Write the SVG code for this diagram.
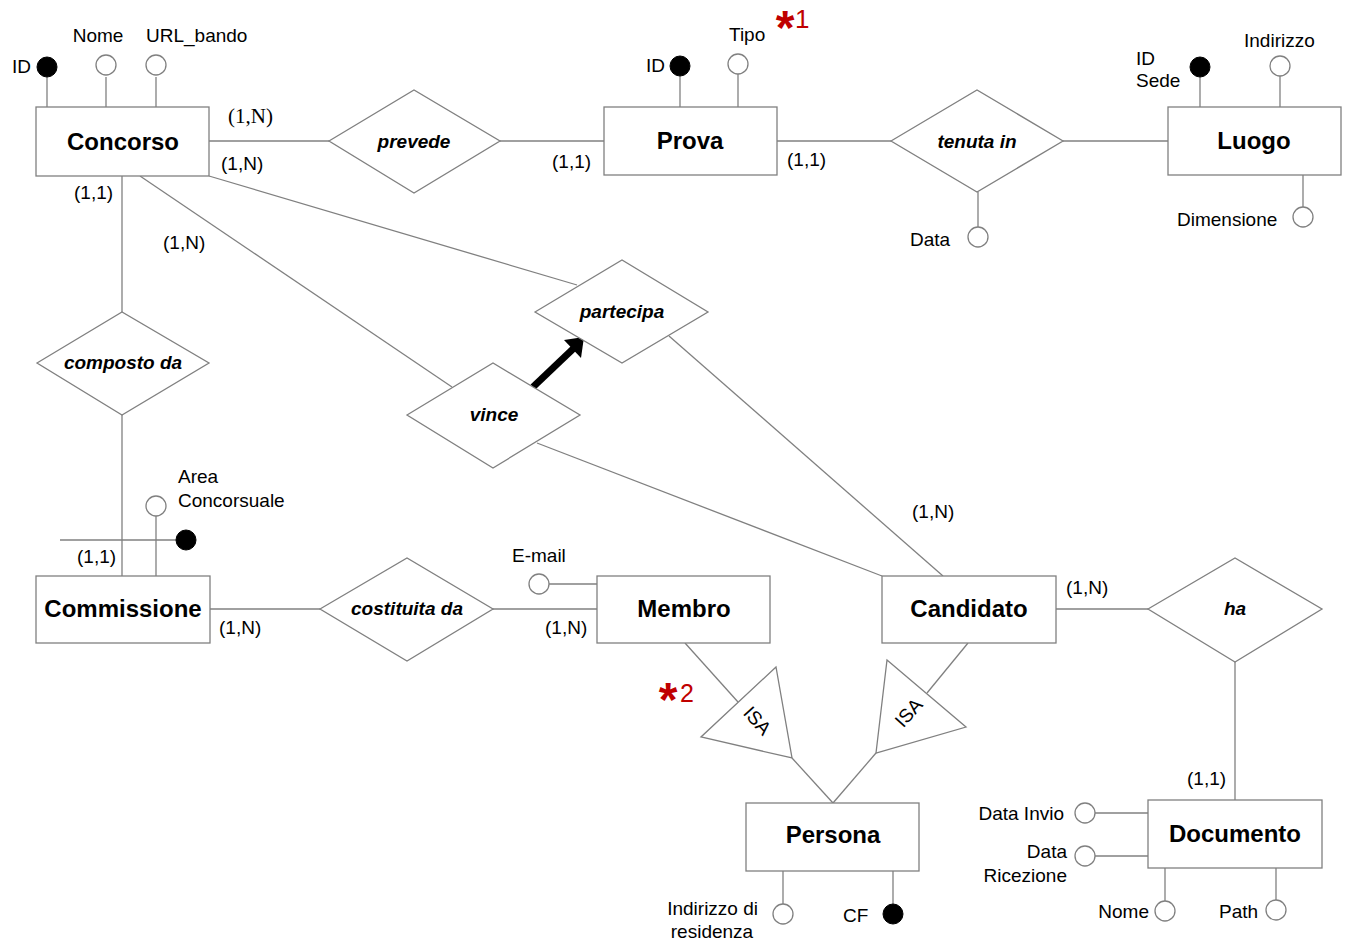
<svg xmlns="http://www.w3.org/2000/svg" width="1351" height="941" viewBox="0 0 1351 941">
<style>
.ent{fill:#fff;stroke:#808080;stroke-width:1.3}
.rel{fill:#fff;stroke:#808080;stroke-width:1.3}
.ln{stroke:#808080;stroke-width:1.3;fill:none}
.ao{fill:#fff;stroke:#808080;stroke-width:1.3}
.ak{fill:#000;stroke:#000;stroke-width:1}
.et{font-family:"Liberation Sans",Arial,sans-serif;font-weight:bold;font-size:24px;text-anchor:middle;fill:#000}
.rt{font-family:"Liberation Sans",Arial,sans-serif;font-weight:bold;font-style:italic;font-size:19px;text-anchor:middle;fill:#000}
.at{font-family:"Liberation Sans",Arial,sans-serif;font-size:19px;fill:#000}
.cd{font-family:"Liberation Sans",Arial,sans-serif;font-size:19px;fill:#000}
.cs{font-family:"Liberation Serif","Times New Roman",serif;font-size:21px;fill:#000}
.red{font-family:"Liberation Sans",Arial,sans-serif;fill:#c00000}
</style>
<rect width="1351" height="941" fill="#fff"/>

<g id="connectors">
<line class="ln" x1="209" y1="141" x2="329" y2="141"/>
<line class="ln" x1="500" y1="141" x2="604" y2="141"/>
<line class="ln" x1="777" y1="141" x2="891" y2="141"/>
<line class="ln" x1="1063" y1="141" x2="1168" y2="141"/>
<line class="ln" x1="122" y1="176" x2="122" y2="312"/>
<line class="ln" x1="122" y1="415" x2="122" y2="576"/>
<line class="ln" x1="210" y1="609" x2="320" y2="609"/>
<line class="ln" x1="493" y1="609" x2="597" y2="609"/>
<line class="ln" x1="1056" y1="609" x2="1148" y2="609"/>
<line class="ln" x1="1235" y1="662" x2="1235" y2="800"/>
<line class="ln" x1="209" y1="176" x2="577" y2="285"/>
<line class="ln" x1="140" y1="176" x2="452" y2="387"/>
<line class="ln" x1="537" y1="443" x2="882" y2="576"/>
<line class="ln" x1="669" y1="336" x2="943" y2="576"/>
<line class="ln" x1="685" y1="643" x2="738" y2="702"/>
<line class="ln" x1="792" y1="758" x2="833" y2="803"/>
<line class="ln" x1="968" y1="643" x2="927" y2="693"/>
<line class="ln" x1="876" y1="753" x2="833" y2="803"/>
<line x1="533" y1="387" x2="574" y2="348" stroke="#000" stroke-width="7"/>
<polygon points="584,337 564,340 581,358" fill="#000"/>
</g>

<g id="concorso">
<rect class="ent" x="36" y="107" width="173" height="69"/>
<text class="et" x="123" y="150">Concorso</text>
<line class="ln" x1="47" y1="77" x2="47" y2="107"/>
<circle class="ak" cx="47" cy="67" r="10"/>
<text class="at" x="31" y="73" text-anchor="end">ID</text>
<line class="ln" x1="106" y1="77" x2="106" y2="107"/>
<circle class="ao" cx="106" cy="65" r="10"/>
<text class="at" x="98" y="42" text-anchor="middle">Nome</text>
<line class="ln" x1="156" y1="77" x2="156" y2="107"/>
<circle class="ao" cx="156" cy="65" r="10"/>
<text class="at" x="146" y="42">URL_bando</text>
<text class="cs" x="228" y="123">(1,N)</text>
<text class="cd" x="221" y="170">(1,N)</text>
<text class="cd" x="74" y="199">(1,1)</text>
<text class="cd" x="163" y="249">(1,N)</text>
</g>

<g id="prevede">
<polygon class="rel" points="329,141 414,90 500,141 414,193"/>
<text class="rt" x="414" y="148">prevede</text>
</g>

<g id="prova">
<rect class="ent" x="604" y="107" width="173" height="68"/>
<text class="et" x="690" y="149">Prova</text>
<line class="ln" x1="680" y1="76" x2="680" y2="107"/>
<circle class="ak" cx="680" cy="66" r="10"/>
<text class="at" x="665" y="72" text-anchor="end">ID</text>
<line class="ln" x1="738" y1="74" x2="738" y2="107"/>
<circle class="ao" cx="738" cy="64" r="10"/>
<text class="at" x="729" y="41">Tipo</text>
<text class="cd" x="552" y="168">(1,1)</text>
<text class="cd" x="787" y="166">(1,1)</text>
<text class="red" x="785" y="44" font-size="48" font-weight="bold" text-anchor="middle">*</text>
<text class="red" x="795" y="28" font-size="26">1</text>
</g>

<g id="tenuta_in">
<polygon class="rel" points="891,141 977,90 1063,141 977,192"/>
<text class="rt" x="977" y="148">tenuta in</text>
<line class="ln" x1="978" y1="192" x2="978" y2="227"/>
<circle class="ao" cx="978" cy="237" r="10"/>
<text class="at" x="910" y="246">Data</text>
</g>

<g id="luogo">
<rect class="ent" x="1168" y="107" width="173" height="68"/>
<text class="et" x="1254" y="149">Luogo</text>
<line class="ln" x1="1200" y1="77" x2="1200" y2="107"/>
<circle class="ak" cx="1200" cy="67" r="10"/>
<text class="at" x="1136" y="65">ID</text>
<text class="at" x="1136" y="87">Sede</text>
<line class="ln" x1="1280" y1="76" x2="1280" y2="107"/>
<circle class="ao" cx="1280" cy="66" r="10"/>
<text class="at" x="1244" y="47">Indirizzo</text>
<line class="ln" x1="1303" y1="175" x2="1303" y2="207"/>
<circle class="ao" cx="1303" cy="217" r="10"/>
<text class="at" x="1177" y="226">Dimensione</text>
</g>

<g id="composto_da">
<polygon class="rel" points="37,363 122,312 209,363 122,415"/>
<text class="rt" x="123" y="369">composto da</text>
</g>

<g id="partecipa">
<polygon class="rel" points="535,312 622,260 708,312 622,363"/>
<text class="rt" x="622" y="318">partecipa</text>
</g>

<g id="vince">
<polygon class="rel" points="407,415 493,363 580,415 493,468"/>
<text class="rt" x="494" y="421">vince</text>
</g>

<g id="commissione">
<rect class="ent" x="36" y="576" width="174" height="67"/>
<text class="et" x="123" y="617">Commissione</text>
<line class="ln" x1="60" y1="540" x2="177" y2="540"/>
<circle class="ak" cx="186" cy="540" r="10"/>
<line class="ln" x1="156" y1="516" x2="156" y2="576"/>
<circle class="ao" cx="156" cy="506" r="10"/>
<text class="at" x="178" y="483">Area</text>
<text class="at" x="178" y="507">Concorsuale</text>
<text class="cd" x="77" y="563">(1,1)</text>
<text class="cd" x="219" y="634">(1,N)</text>
</g>

<g id="costituita_da">
<polygon class="rel" points="320,609 407,558 493,609 407,661"/>
<text class="rt" x="407" y="615">costituita da</text>
</g>

<g id="membro">
<rect class="ent" x="597" y="576" width="173" height="67"/>
<text class="et" x="684" y="617">Membro</text>
<line class="ln" x1="549" y1="584" x2="597" y2="584"/>
<circle class="ao" cx="539" cy="584" r="10"/>
<text class="at" x="512" y="562">E-mail</text>
<text class="cd" x="545" y="634">(1,N)</text>
</g>

<g id="candidato">
<rect class="ent" x="882" y="576" width="174" height="67"/>
<text class="et" x="969" y="617">Candidato</text>
<text class="cd" x="912" y="518">(1,N)</text>
<text class="cd" x="1066" y="594">(1,N)</text>
</g>

<g id="ha">
<polygon class="rel" points="1148,609 1235,558 1322,609 1235,662"/>
<text class="rt" x="1235" y="615">ha</text>
</g>

<g id="isa_membro">
<polygon class="rel" points="776,667 701,737 792,758"/>
<text class="at" x="0" y="0" text-anchor="middle" transform="translate(757,721) rotate(48) translate(0,6)">ISA</text>
<text class="red" x="668" y="716" font-size="48" font-weight="bold" text-anchor="middle">*</text>
<text class="red" x="680" y="702" font-size="25">2</text>
</g>

<g id="isa_candidato">
<polygon class="rel" points="887,660 966,727 876,753"/>
<text class="at" x="0" y="0" text-anchor="middle" transform="translate(909,713) rotate(-48) translate(0,6)">ISA</text>
</g>

<g id="persona">
<rect class="ent" x="746" y="803" width="173" height="68"/>
<text class="et" x="833" y="843">Persona</text>
<line class="ln" x1="783" y1="871" x2="783" y2="904"/>
<circle class="ao" cx="783" cy="914" r="10"/>
<text class="at" x="758" y="915" text-anchor="end">Indirizzo di</text>
<text class="at" x="712" y="938" text-anchor="middle">residenza</text>
<line class="ln" x1="893" y1="871" x2="893" y2="904"/>
<circle class="ak" cx="893" cy="914" r="10"/>
<text class="at" x="843" y="922">CF</text>
</g>

<g id="documento">
<rect class="ent" x="1148" y="800" width="174" height="68"/>
<text class="et" x="1235" y="842">Documento</text>
<text class="cd" x="1187" y="785">(1,1)</text>
<line class="ln" x1="1095" y1="813" x2="1148" y2="813"/>
<circle class="ao" cx="1085" cy="813" r="10"/>
<text class="at" x="1064" y="820" text-anchor="end">Data Invio</text>
<line class="ln" x1="1095" y1="856" x2="1148" y2="856"/>
<circle class="ao" cx="1085" cy="856" r="10"/>
<text class="at" x="1067" y="858" text-anchor="end">Data</text>
<text class="at" x="1067" y="882" text-anchor="end">Ricezione</text>
<line class="ln" x1="1165" y1="868" x2="1165" y2="901"/>
<circle class="ao" cx="1165" cy="911" r="10"/>
<text class="at" x="1149" y="918" text-anchor="end">Nome</text>
<line class="ln" x1="1276" y1="868" x2="1276" y2="900"/>
<circle class="ao" cx="1276" cy="910" r="10"/>
<text class="at" x="1219" y="918">Path</text>
</g>
</svg>
